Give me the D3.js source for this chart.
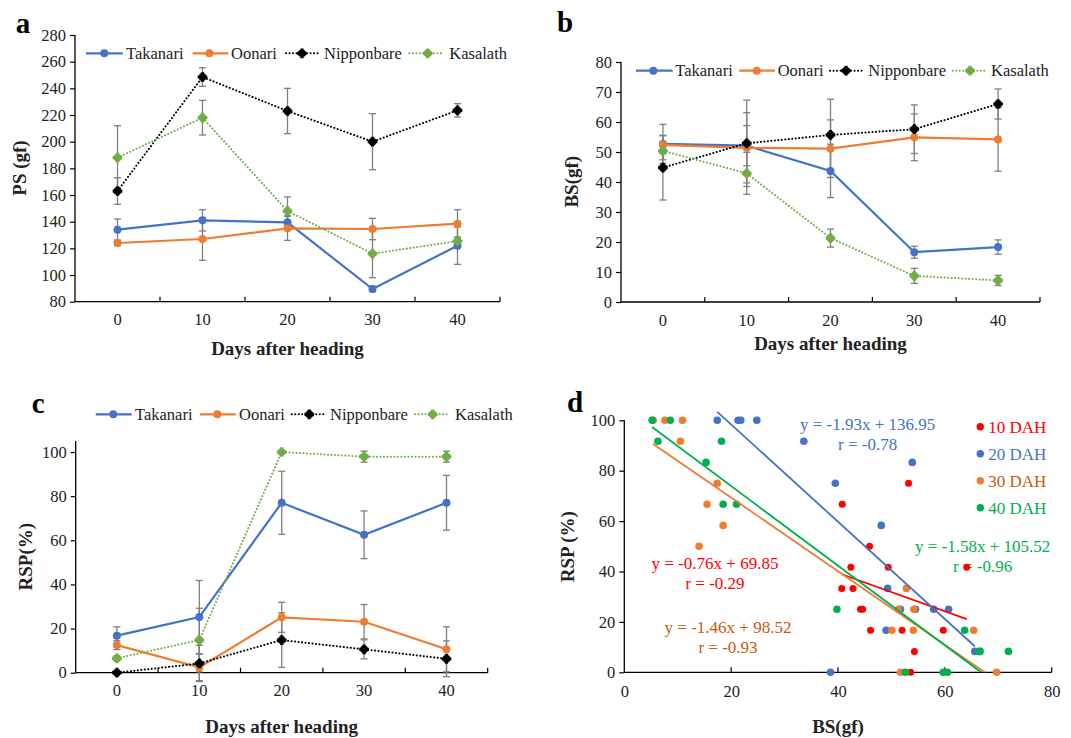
<!DOCTYPE html>
<html><head><meta charset="utf-8">
<script src="https://cdn.jsdelivr.net/npm/d3@7"></script>
<style>body{margin:0;background:#fff} svg{display:block} text{font-family:"Liberation Serif","Times New Roman",serif}</style>
</head><body><svg id="chart" width="1071" height="738"></svg>
<script>
// ---------- data ----------
const days = [0, 10, 20, 30, 40];
const cultivars = ["Takanari", "Oonari", "Nipponbare", "Kasalath"];

// panel a: PS (gf)
const psTakanari = [134, 141, 139.5, 89.5, 122];
const psTakanariErr = [8, 8, 5, 2, 14];
const psOonari = [124, 127, 135, 134.5, 138.5];
const psOonariErr = [2, 16, 9, 8, 10.5];
const psNipponbare = [163, 248.5, 223, 200, 223.5];
const psNipponbareErr = [10, 7, 17, 21, 5];
const psKasalath = [188, 218, 148, 116, 125.5];
const psKasalathErr = [24, 13, 10.5, 18, 3];
const psTicks = [80, 100, 120, 140, 160, 180, 200, 220, 240, 260, 280];

// panel b: BS (gf)
const bsTakanari = [52.7, 52.1, 43.7, 16.6, 18.3];
const bsTakanariErr = [6.5, 6.7, 8.9, 2, 2.4];
const bsOonari = [52.4, 51.4, 51.1, 54.9, 54.2];
const bsOonariErr = [3, 11.7, 9.6, 7.8, 10.6];
const bsNipponbare = [44.8, 52.9, 55.7, 57.6, 66];
const bsNipponbareErr = [10.8, 14.4, 11.9, 8.1, 5];
const bsKasalath = [50.4, 42.9, 21.3, 8.7, 7.2];
const bsKasalathErr = [3, 7, 3, 2.5, 1.7];
const bsTicks = [0, 10, 20, 30, 40, 50, 60, 70, 80];

// panel c: RSP (%)
const rspTakanari = [16.8, 25.2, 77, 62.5, 77];
const rspTakanariErr = [4, 16.6, 14.3, 10.8, 12.4];
const rspOonari = [12.5, 2.4, 25.1, 23.1, 10.6];
const rspOonariErr = [2, 6, 6.8, 7.8, 10.2];
const rspNipponbare = [0, 4.2, 14.8, 10.6, 6.3];
const rspNipponbareErr = [0, 8.2, 12.4, 4.3, 8.1];
const rspKasalath = [6.5, 14.8, 100, 97.9, 97.9];
const rspKasalathErr = [1, 14.4, 0, 2.5, 2.5];
const rspTicks = [0, 20, 40, 60, 80, 100];

// panel d: RSP vs BS scatter
const groups = ["10 DAH", "20 DAH", "30 DAH", "40 DAH"];
const dah10BS  = [40.8, 53.2, 45.9, 42.4, 49.4, 64.1, 40.7, 42.8, 44.2, 44.6, 46.1, 52.0, 59.7, 54.3, 53.6];
const dah10RSP = [66.7, 75, 50, 41.7, 41.7, 41.7, 33.3, 33.3, 25, 25, 16.7, 16.7, 16.7, 8.3, 0];
const dah20BS  = [17.4, 21.3, 21.8, 24.8, 33.6, 39.5, 53.9, 48.1, 49.3, 51.7, 54.5, 57.9, 60.7, 49.0, 65.6, 38.6];
const dah20RSP = [100, 100, 100, 100, 91.7, 75, 83.3, 58.3, 33.3, 25, 25, 25, 25, 16.7, 8.3, 0];
const dah30BS  = [5.4, 7.6, 10.9, 10.5, 17.4, 15.5, 18.5, 14.0, 52.8, 51.3, 54.2, 50.1, 54.1, 65.4, 51.7, 69.7];
const dah30RSP = [100, 100, 100, 91.7, 75, 66.7, 58.3, 50, 33.3, 25, 25, 16.7, 16.7, 16.7, 0, 0];
const dah40BS  = [5.2, 8.6, 6.3, 18.2, 15.3, 18.5, 21.0, 39.8, 63.7, 66.4, 66.6, 71.9, 52.6, 59.7, 60.5];
const dah40RSP = [100, 100, 91.7, 91.7, 83.3, 66.7, 66.7, 25, 16.7, 8.3, 8.3, 8.3, 0, 0, 0];
const fitSlope = [-0.76, -1.93, -1.46, -1.58];
const fitIntercept = [69.85, 136.95, 98.52, 105.52];
const fitR = [-0.29, -0.78, -0.93, -0.96];
const scatterXTicks = [0, 20, 40, 60, 80];
const scatterYTicks = [0, 20, 40, 60, 80, 100];

// ---------- styles ----------
const lineColors = ["#4472C4", "#ED7D31", "#000000", "#70AD47"];
const dotted = [false, false, true, true];
const dahColors = ["#FF0000", "#4472C4", "#ED7D31", "#00B050"];
const dahTextColors = ["#FF0000", "#4472C4", "#C55A11", "#00B050"];
const errColor = "#7f7f7f";
const tickFont = "16.5px";

const svg = d3.select("#chart");

function marker(g, cx, cy, i) {
  if (i < 2) {
    g.append("circle").attr("cx", cx).attr("cy", cy).attr("r", 4).attr("fill", lineColors[i]);
  } else {
    g.append("circle").attr("cx", cx).attr("cy", cy).attr("r", 2.8).attr("fill", lineColors[i]);
    g.append("path").attr("d", d3.symbol(d3.symbolCross, 52)()).attr("transform", `translate(${cx},${cy})`).attr("fill", lineColors[i]);
    g.append("path").attr("d", d3.symbol(d3.symbolCross, 36)()).attr("transform", `translate(${cx},${cy}) rotate(45)`).attr("fill", lineColors[i]);
  }
}

function linePanel(cfg) {
  const g = svg.append("g");
  const x = d3.scaleBand().domain(days).range([cfg.left, cfg.right]);
  const y = d3.scaleLinear().domain(cfg.domain).range([cfg.bottom, cfg.top]);
  const cx = d => x(d) + x.bandwidth() / 2;

  const ya = g.append("g").attr("transform", `translate(${cfg.left},0)`)
    .call(d3.axisLeft(y).tickValues(cfg.ticks).tickSize(5).tickPadding(4).tickFormat(d3.format("d")));
  ya.select(".domain").remove();
  ya.selectAll("line").attr("stroke", "#000").attr("stroke-width", 1.2);
  ya.selectAll("text").attr("font-size", tickFont).attr("fill", "#222").attr("font-family", "Liberation Serif");
  g.append("line").attr("x1", cfg.left).attr("x2", cfg.left).attr("y1", cfg.top).attr("y2", cfg.bottom)
    .attr("stroke", "#000").attr("stroke-width", 1.3);

  const xa = g.append("g").attr("transform", `translate(0,${cfg.bottom})`)
    .call(d3.axisBottom(x).tickSize(0).tickPadding(12));
  xa.select(".domain").remove();
  xa.selectAll("text").attr("font-size", tickFont).attr("fill", "#222").attr("font-family", "Liberation Serif");
  g.append("line").attr("x1", cfg.left).attr("x2", cfg.right).attr("y1", cfg.bottom).attr("y2", cfg.bottom)
    .attr("stroke", "#000").attr("stroke-width", 1.3);
  days.forEach(d => {
    const bx = x(d) + x.bandwidth();
    g.append("line").attr("x1", bx).attr("x2", bx).attr("y1", cfg.bottom).attr("y2", cfg.bottom - 5)
      .attr("stroke", "#000").attr("stroke-width", 1.2);
  });

  cfg.series.forEach((s, i) => {
    s.vals.forEach((v, k) => {
      const e = s.err[k];
      if (!e) return;
      const px = cx(days[k]);
      const y1 = y(v + e), y2 = y(v - e);
      g.append("line").attr("x1", px).attr("x2", px).attr("y1", y1).attr("y2", y2).attr("stroke", errColor).attr("stroke-width", 1.3);
      [y1, y2].forEach(yy => g.append("line").attr("x1", px - 3.5).attr("x2", px + 3.5).attr("y1", yy).attr("y2", yy)
        .attr("stroke", errColor).attr("stroke-width", 1.3));
    });
  });

  cfg.series.forEach((s, i) => {
    const line = d3.line().x((v, k) => cx(days[k])).y(v => y(v));
    const p = g.append("path").attr("d", line(s.vals)).attr("fill", "none").attr("stroke", lineColors[i])
      .attr("stroke-width", dotted[i] ? 2 : 2.2);
    if (dotted[i]) p.attr("stroke-dasharray", "0.1 3.4").attr("stroke-linecap", "round");
    s.vals.forEach((v, k) => marker(g, cx(days[k]), y(v), i));
  });

  cfg.legend.forEach((L, i) => {
    const p = g.append("line").attr("x1", L[0]).attr("x2", L[1]).attr("y1", cfg.legendY).attr("y2", cfg.legendY)
      .attr("stroke", lineColors[i]).attr("stroke-width", dotted[i] ? 2 : 2.2);
    if (dotted[i]) p.attr("stroke-dasharray", "0.1 3.4").attr("stroke-linecap", "round");
    marker(g, L[2], cfg.legendY, i);
    g.append("text").attr("x", L[3]).attr("y", cfg.legendY).attr("dy", "0.35em").attr("font-size", "16.5px")
      .attr("fill", "#222").text(cultivars[i]);
  });

  g.append("text").attr("x", cfg.xTitle[0]).attr("y", cfg.xTitle[1]).attr("dy", "0.35em").attr("text-anchor", "middle")
    .attr("font-size", "19px").attr("font-weight", "bold").attr("fill", "#222").text("Days after heading");
  g.append("text").attr("transform", `translate(${cfg.yTitle[0]},${cfg.yTitle[1]}) rotate(-90)`).attr("dy", "0.35em")
    .attr("text-anchor", "middle").attr("font-size", "19px").attr("font-weight", "bold").attr("fill", "#222").text(cfg.yLabel);
  g.append("text").attr("x", cfg.letter[0]).attr("y", cfg.letter[1]).attr("dy", "0.35em").attr("text-anchor", "middle")
    .attr("font-size", "29px").attr("font-weight", "bold").attr("fill", "#000").text(cfg.letterText);
}

linePanel({
  left: 75, right: 500, top: 35, bottom: 301.7, domain: [80, 280], ticks: psTicks,
  series: [
    { vals: psTakanari, err: psTakanariErr }, { vals: psOonari, err: psOonariErr },
    { vals: psNipponbare, err: psNipponbareErr }, { vals: psKasalath, err: psKasalathErr }],
  legendY: 53.3,
  legend: [[86, 122.7, 104.3, 126], [192.7, 228.3, 209.3, 231], [286, 318.3, 302, 324], [409.3, 443.3, 427.7, 449.3]],
  xTitle: [287.5, 348.3], yTitle: [19.5, 168], yLabel: "PS (gf)", letter: [23, 23], letterText: "a"
});

linePanel({
  left: 621, right: 1040, top: 62, bottom: 302, domain: [0, 80], ticks: bsTicks,
  series: [
    { vals: bsTakanari, err: bsTakanariErr }, { vals: bsOonari, err: bsOonariErr },
    { vals: bsNipponbare, err: bsNipponbareErr }, { vals: bsKasalath, err: bsKasalathErr }],
  legendY: 70.7,
  legend: [[636, 672.7, 653.3, 675.3], [739.3, 775, 756.7, 777.7], [830, 863.3, 846, 868.3], [952.7, 986.7, 970, 991]],
  xTitle: [830.5, 343.3], yTitle: [571.7, 181.7], yLabel: "BS(gf)", letter: [565, 21.7], letterText: "b"
});

linePanel({
  left: 75.7, right: 487.7, top: 441, bottom: 672.7, domain: [0, 105], ticks: rspTicks,
  series: [
    { vals: rspTakanari, err: rspTakanariErr }, { vals: rspOonari, err: rspOonariErr },
    { vals: rspNipponbare, err: rspNipponbareErr }, { vals: rspKasalath, err: rspKasalathErr }],
  legendY: 414.3,
  legend: [[95.7, 131.7, 113.3, 135], [200, 235.7, 217.3, 239], [291.7, 323.3, 309.3, 330], [415, 450, 432.7, 455]],
  xTitle: [281.7, 726.7], yTitle: [25, 556.7], yLabel: "RSP(%)", letter: [38.3, 403.3], letterText: "c"
});

// ---------- panel d ----------
(function () {
  const L = 624.3, R = 1051.7, T = 420.3, B = 672.3;
  const g = svg.append("g");
  const x = d3.scaleLinear().domain([0, 80]).range([L, R]);
  const y = d3.scaleLinear().domain([0, 100]).range([B, T]);

  const ya = g.append("g").attr("transform", `translate(${L},0)`)
    .call(d3.axisLeft(y).tickValues(scatterYTicks).tickSize(5).tickPadding(4));
  ya.select(".domain").remove();
  ya.selectAll("line").attr("stroke", "#000").attr("stroke-width", 1.2);
  ya.selectAll("text").attr("font-size", tickFont).attr("fill", "#222").attr("font-family", "Liberation Serif");
  g.append("line").attr("x1", L).attr("x2", L).attr("y1", T).attr("y2", B).attr("stroke", "#000").attr("stroke-width", 1.3);

  const xa = g.append("g").attr("transform", `translate(0,${B})`)
    .call(d3.axisBottom(x).tickValues(scatterXTicks).tickSize(0).tickPadding(13));
  xa.select(".domain").remove();
  xa.selectAll("text").attr("font-size", tickFont).attr("fill", "#222").attr("font-family", "Liberation Serif");
  g.append("line").attr("x1", L).attr("x2", R).attr("y1", B).attr("y2", B).attr("stroke", "#000").attr("stroke-width", 1.3);
  scatterXTicks.slice(1).forEach(t => g.append("line").attr("x1", x(t)).attr("x2", x(t)).attr("y1", B).attr("y2", B - 5)
    .attr("stroke", "#000").attr("stroke-width", 1.2));

  const xs = [dah10BS, dah20BS, dah30BS, dah40BS];
  const ys = [dah10RSP, dah20RSP, dah30RSP, dah40RSP];

  const eqPos = [[715, 563.3], [867.7, 424.3], [728, 626.7], [982.7, 545.7]];
  fitSlope.forEach((s, i) => {
    const sign = fitIntercept[i] >= 0 ? "+" : "-";
    g.append("text").attr("x", eqPos[i][0]).attr("y", eqPos[i][1]).attr("dy", "0.35em").attr("text-anchor", "middle")
      .attr("font-size", "17px").attr("fill", dahTextColors[i])
      .text(`y = ${s.toFixed(2)}x ${sign} ${Math.abs(fitIntercept[i]).toFixed(2)}`);
    g.append("text").attr("x", eqPos[i][0]).attr("y", eqPos[i][1] + 20).attr("dy", "0.35em").attr("text-anchor", "middle")
      .attr("font-size", "17px").attr("fill", dahTextColors[i]).text(`r = ${fitR[i].toFixed(2)}`);
  });

  xs.forEach((arr, i) => {
    arr.forEach((v, k) => g.append("circle").attr("cx", x(v)).attr("cy", y(ys[i][k])).attr("r", i === 0 ? 3.5 : 3.8)
      .attr("fill", dahColors[i]));
  });

  svg.append("clipPath").attr("id", "clipd").append("rect").attr("x", L).attr("y", 380).attr("width", R - L).attr("height", B - 380);
  const fg = g.append("g").attr("clip-path", "url(#clipd)");
  xs.forEach((arr, i) => {
    const [x0, x1] = d3.extent(arr);
    fg.append("line").attr("x1", x(x0)).attr("y1", y(fitSlope[i] * x0 + fitIntercept[i]))
      .attr("x2", x(x1)).attr("y2", y(fitSlope[i] * x1 + fitIntercept[i]))
      .attr("stroke", dahColors[i]).attr("stroke-width", 1.8);
  });

  groups.forEach((name, i) => {
    const ly = 426.7 + i * 27;
    g.append("circle").attr("cx", 980.3).attr("cy", ly).attr("r", 3.7).attr("fill", dahColors[i]);
    g.append("text").attr("x", 988.3).attr("y", ly).attr("dy", "0.35em").attr("font-size", "17px")
      .attr("fill", dahTextColors[i]).text(name);
  });

  g.append("text").attr("x", 838).attr("y", 726.7).attr("dy", "0.35em").attr("text-anchor", "middle")
    .attr("font-size", "19px").attr("font-weight", "bold").attr("fill", "#222").text("BS(gf)");
  g.append("text").attr("transform", `translate(567,546.7) rotate(-90)`).attr("dy", "0.35em").attr("text-anchor", "middle")
    .attr("font-size", "19px").attr("font-weight", "bold").attr("fill", "#222").text("RSP (%)");
  g.append("text").attr("x", 575).attr("y", 401.7).attr("dy", "0.35em").attr("text-anchor", "middle")
    .attr("font-size", "29px").attr("font-weight", "bold").attr("fill", "#000").text("d");
})();
</script></body></html>
